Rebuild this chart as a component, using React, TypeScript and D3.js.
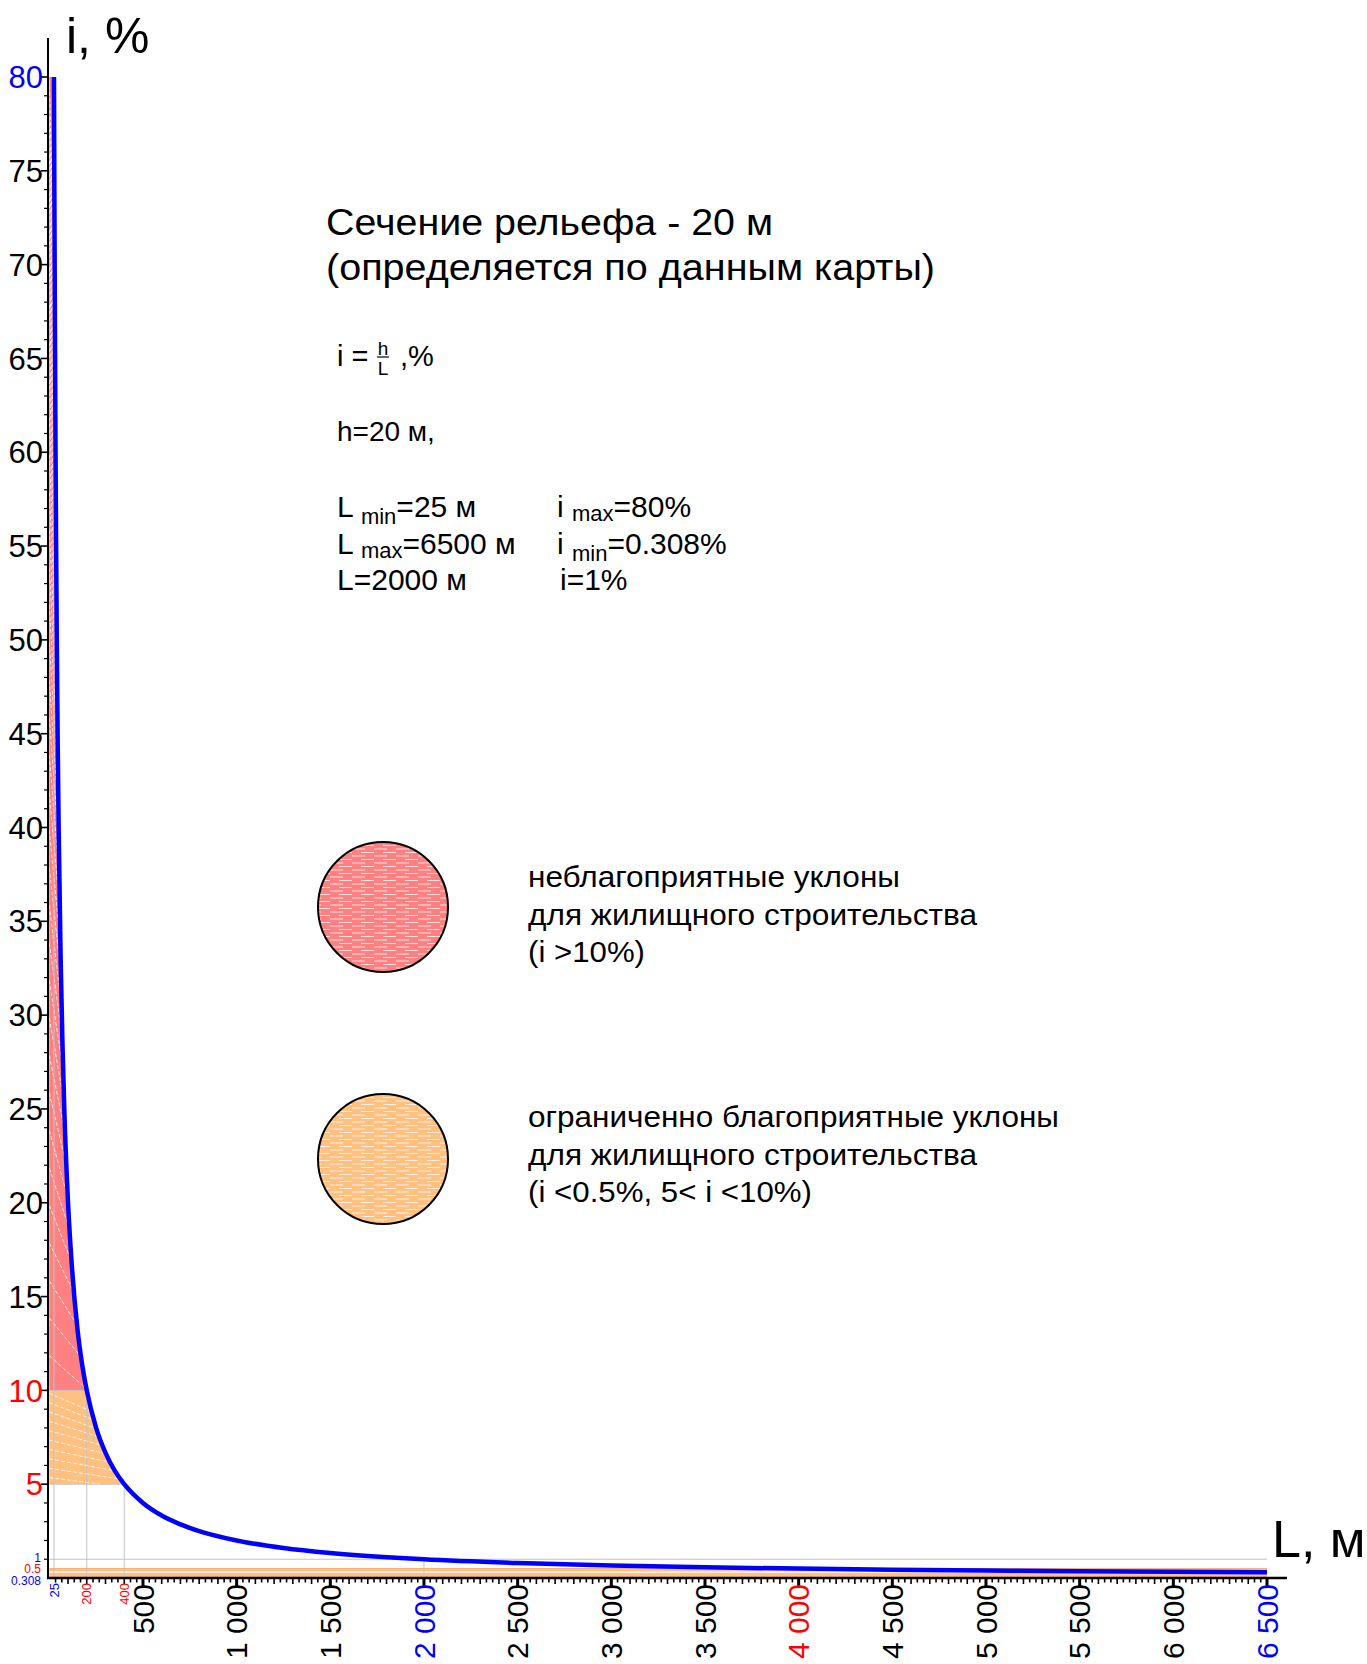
import React, { useEffect, useRef } from "react";
import * as d3 from "d3";

// slope i = h / L (h = 20 m)
const curveL = [25, 27, 30, 33, 36, 40, 45, 50, 60, 70, 80, 100, 120, 150, 175, 200, 250, 300, 350, 400, 500, 600, 700, 800, 1000, 1250, 1500, 2000, 2500, 3000, 3500, 4000, 4500, 5000, 5500, 6000, 6500];
const curveI = [80, 74.1, 66.7, 60.6, 55.6, 50, 44.4, 40, 33.3, 28.6, 25, 20, 16.7, 13.3, 11.4, 10, 8, 6.67, 5.71, 5, 4, 3.33, 2.86, 2.5, 2, 1.6, 1.33, 1, 0.8, 0.667, 0.571, 0.5, 0.444, 0.4, 0.364, 0.333, 0.308];

// zones
const redZone = [10, 80];
const orangeZone = [5, 10];
const lowZone = [0, 0.5];

// axis ticks
const yTicks = [5, 10, 15, 20, 25, 30, 35, 40, 45, 50, 55, 60, 65, 70, 75, 80];
const yBlueTicks = [80];
const yRedTicks = [5, 10];
const ySmallTicks = [1, 0.5, 0.308];
const ySmallBlue = [1, 0.308];

const xTicks = [500, 1000, 1500, 2000, 2500, 3000, 3500, 4000, 4500, 5000, 5500, 6000, 6500];
const xBlueTicks = [2000, 6500];
const xRedTicks = [4000];
const xSmallTicks = [25, 200, 400];
const xSmallBlue = [25];

// reference lines on the grid
const guideL = [25, 200, 400, 2000];
const guideI = [80, 10, 5, 1];

const titleLines = ["Сечение рельефа - 20 м", "(определяется по данным карты)"];
const legendRed = ["неблагоприятные уклоны", "для жилищного строительства", "(i >10%)"];
const legendOrange = ["ограниченно благоприятные уклоны", "для жилищного строительства", "(i <0.5%, 5< i <10%)"];

const BLUE = "#0000ff";
const RED = "#ff0000";
const RED_FILL = "#ff8080";
const ORANGE_FILL = "#ffc080";
const FONT = "'Liberation Sans', Arial, sans-serif";

const App: React.FC = () => {
  const svgRef = useRef<SVGSVGElement>(null);

  useEffect(() => {
    if (!svgRef.current) return;
    const svg = d3.select(svgRef.current);
    svg.selectAll("*").remove();

    const width = 1367;
    const height = 1664;
    svg.attr("width", width).attr("height", height).style("font-family", FONT);

    const x = d3.scaleLinear().domain([0, 6500]).range([49.3, 1267]);
    const y = d3.scaleLinear().domain([0, 80]).range([1578, 77]);
    const lOfI = d3.scaleLinear().domain(curveI).range(curveL);

    const pts: [number, number][] = curveL.map((l, k) => [l, curveI[k]]);
    const fmt = d3.formatLocale({ decimal: ".", thousands: " ", grouping: [3], currency: ["", ""] }).format(",");

    const defs = svg.append("defs");

    // hatch patterns for the legend circles
    [["hatchRed", RED_FILL], ["hatchOrange", ORANGE_FILL]].forEach(([id, col]) => {
      const p = defs
        .append("pattern")
        .attr("id", id)
        .attr("patternUnits", "userSpaceOnUse")
        .attr("width", 22)
        .attr("height", 7);
      p.append("rect").attr("width", 22).attr("height", 7).attr("fill", col);
      p.append("line").attr("x1", 0).attr("x2", 13).attr("y1", 2).attr("y2", 2)
        .attr("stroke", "#fff").attr("stroke-width", 0.9).attr("opacity", 0.85);
      p.append("line").attr("x1", 9).attr("x2", 22).attr("y1", 5.5).attr("y2", 5.5)
        .attr("stroke", "#fff").attr("stroke-width", 0.9).attr("opacity", 0.85);
    });

    // zone areas between the i axis and the curve
    const zoneArea = d3
      .area<[number, number]>()
      .x0(x(0))
      .x1((d) => x(d[0]))
      .y((d) => y(d[1]))
      .curve(d3.curveMonotoneY);

    const zones = [
      { id: "zoneRed", range: redZone, fill: RED_FILL, ratio: 0.85, step: 2 },
      { id: "zoneOrange", range: orangeZone, fill: ORANGE_FILL, ratio: 0.9, step: 0.5 },
    ];

    zones.forEach((z) => {
      const sub = pts.filter((d) => d[1] >= z.range[0] && d[1] <= z.range[1]);
      const pathD = zoneArea(sub) || "";
      defs.append("clipPath").attr("id", z.id + "Clip").append("path").attr("d", pathD);
      svg.append("path").attr("d", pathD).attr("fill", z.fill);

      // white dashed hatch
      const g = svg.append("g").attr("clip-path", `url(#${z.id}Clip)`);
      d3.range(z.range[1] - 0.15, z.range[0], -z.step).forEach((a) => {
        const b = a * z.ratio;
        g.append("line")
          .attr("x1", x(0))
          .attr("y1", y(a))
          .attr("x2", x(lOfI(b)))
          .attr("y2", y(b))
          .attr("stroke", "#fff")
          .attr("stroke-width", 1)
          .attr("stroke-dasharray", "4 2")
          .attr("opacity", 0.85);
      });
    });

    // low slope strip (i < 0.5)
    svg
      .append("rect")
      .attr("x", x(0))
      .attr("y", y(lowZone[1]))
      .attr("width", x(6500) - x(0))
      .attr("height", y(lowZone[0]) - y(lowZone[1]))
      .attr("fill", ORANGE_FILL);
    svg
      .append("line")
      .attr("x1", x(0))
      .attr("x2", x(6500))
      .attr("y1", y(0.308))
      .attr("y2", y(0.308))
      .attr("stroke", "#fff")
      .attr("stroke-width", 1.2);

    // gray guide lines
    const grid = svg.append("g").attr("stroke", "#c4c4c4").attr("stroke-width", 1);
    guideL.forEach((l, k) => {
      grid.append("line").attr("x1", x(l)).attr("x2", x(l)).attr("y1", y(0)).attr("y2", y(guideI[k]));
    });
    guideI.slice(1).forEach((v, k) => {
      const xEnd = v === 1 ? x(6500) : x(guideL[k + 1]);
      grid.append("line").attr("x1", x(0)).attr("x2", xEnd).attr("y1", y(v)).attr("y2", y(v));
    });
    grid.append("line").attr("x1", x(0)).attr("x2", x(6500)).attr("y1", y(0.5)).attr("y2", y(0.5))
      .attr("stroke", "#f0b070");

    // curve
    svg
      .append("path")
      .attr("d", d3.line<[number, number]>().x((d) => x(d[0])).y((d) => y(d[1])).curve(d3.curveMonotoneX)(pts) || "")
      .attr("fill", "none")
      .attr("stroke", BLUE)
      .attr("stroke-width", 4.5);

    // axes
    const axis = svg.append("g").attr("stroke", "#000");
    axis.append("line").attr("x1", 47).attr("x2", 1287).attr("y1", y(0)).attr("y2", y(0)).attr("stroke-width", 2.6);
    axis.append("line").attr("x1", 48).attr("x2", 48).attr("y1", 38).attr("y2", y(0) + 1).attr("stroke-width", 2);

    // y ticks, every unit
    d3.range(1, 81).forEach((v) => {
      const major = v % 5 === 0;
      axis
        .append("line")
        .attr("x1", 48)
        .attr("x2", major ? 41 : 44)
        .attr("y1", y(v))
        .attr("y2", y(v))
        .attr("stroke-width", major ? 1.6 : 1.2);
    });

    // x ticks
    d3.range(1, 196).forEach((k) => {
      const v = (k * 100) / 3;
      const major = k % 15 === 0;
      const mid = k % 3 === 0;
      axis
        .append("line")
        .attr("x1", x(v))
        .attr("x2", x(v))
        .attr("y1", y(0))
        .attr("y2", y(0) + (major ? 8 : mid ? 6 : 4.5))
        .attr("stroke-width", major ? 3 : 1.6);
    });

    const colorY = (v: number) => (yBlueTicks.includes(v) ? BLUE : yRedTicks.includes(v) ? RED : "#000");
    svg
      .append("g")
      .selectAll("text")
      .data(yTicks)
      .enter()
      .append("text")
      .attr("x", 43)
      .attr("y", (d) => y(d))
      .attr("dy", "0.36em")
      .attr("text-anchor", "end")
      .attr("font-size", 31)
      .attr("fill", colorY)
      .text((d) => d);

    // small labels near the origin, nudged apart like in the drawing
    const smallNudge = [-2, 0, 3];
    svg
      .append("g")
      .selectAll("text")
      .data(ySmallTicks)
      .enter()
      .append("text")
      .attr("x", 41)
      .attr("y", (d, k) => y(d) + smallNudge[k] + (k === 2 ? 5 : 0))
      .attr("dy", "0.36em")
      .attr("text-anchor", "end")
      .attr("font-size", 12)
      .attr("fill", (d) => (ySmallBlue.includes(d) ? BLUE : RED))
      .text((d) => d);

    const colorX = (v: number) => (xBlueTicks.includes(v) ? BLUE : xRedTicks.includes(v) ? RED : "#000");
    svg
      .append("g")
      .selectAll("text")
      .data(xTicks)
      .enter()
      .append("text")
      .attr("transform", (d) => `translate(${x(d)},${y(0) + 6}) rotate(-90)`)
      .attr("dy", "0.36em")
      .attr("text-anchor", "end")
      .attr("font-size", 30)
      .attr("fill", colorX)
      .text((d) => fmt(d));

    svg
      .append("g")
      .selectAll("text")
      .data(xSmallTicks)
      .enter()
      .append("text")
      .attr("transform", (d) => `translate(${x(d)},${y(0) + 5}) rotate(-90)`)
      .attr("dy", "0.36em")
      .attr("text-anchor", "end")
      .attr("font-size", 13)
      .attr("fill", (d) => (xSmallBlue.includes(d) ? BLUE : RED))
      .text((d) => d);

    // axis names
    svg.append("text").attr("x", 66).attr("y", 53).attr("font-size", 50).text("i, %");
    svg.append("text").attr("x", 1272).attr("y", 1557).attr("font-size", 52).text("L, м");

    // title (the drawing's font runs a little wider, so the lines are stretched to its widths)
    const titleWidths = [447, 609];
    titleLines.forEach((t, k) => {
      svg.append("text").attr("x", 326).attr("y", 235 + k * 45).attr("font-size", 36)
        .attr("textLength", titleWidths[k]).attr("lengthAdjust", "spacingAndGlyphs").text(t);
    });

    // formula i = h / L
    svg.append("text").attr("x", 337).attr("y", 366).attr("font-size", 29).text("i =");
    svg.append("text").attr("x", 383).attr("y", 354.5).attr("font-size", 19).attr("text-anchor", "middle").text("h");
    svg.append("line").attr("x1", 377).attr("x2", 389).attr("y1", 357).attr("y2", 357).attr("stroke", "#000").attr("stroke-width", 1.2);
    svg.append("text").attr("x", 383).attr("y", 374.5).attr("font-size", 19).attr("text-anchor", "middle").text("L");
    svg.append("text").attr("x", 400).attr("y", 366).attr("font-size", 29).text(",%");
    svg.append("text").attr("x", 337).attr("y", 441).attr("font-size", 28).text("h=20 м,");

    const rows: [string, string, string, number][] = [
      ["L ", "min", "=25 м", 7],
      ["L ", "max", "=6500 м", 4],
    ];
    const rowsR: [string, string, string, number][] = [
      ["i ", "max", "=80%", 4],
      ["i ", "min", "=0.308%", 7],
    ];
    const sub = (xPos: number, yPos: number, r: [string, string, string, number]) => {
      const t = svg.append("text").attr("x", xPos).attr("y", yPos).attr("font-size", 30);
      t.append("tspan").text(r[0]);
      t.append("tspan").attr("font-size", 22).attr("dy", r[3]).text(r[1]);
      t.append("tspan").attr("dy", -r[3]).text(r[2]);
    };
    rows.forEach((r, k) => sub(337, 517 + k * 36.5, r));
    rowsR.forEach((r, k) => sub(557, 517 + k * 36.5, r));
    svg.append("text").attr("x", 337).attr("y", 590).attr("font-size", 30).text("L=2000 м");
    svg.append("text").attr("x", 560).attr("y", 590).attr("font-size", 30).text("i=1%");

    // legend
    const legends = [
      { cy: 907, fill: "url(#hatchRed)", lines: legendRed, widths: [372, 449, 117], top: 887 },
      { cy: 1159, fill: "url(#hatchOrange)", lines: legendOrange, widths: [531, 449, 284], top: 1127 },
    ];
    legends.forEach((l) => {
      svg.append("circle").attr("cx", 383).attr("cy", l.cy).attr("r", 65)
        .attr("fill", l.fill).attr("stroke", "#000").attr("stroke-width", 2);
      l.lines.forEach((t, k) => {
        svg.append("text").attr("x", 528).attr("y", l.top + k * 37.5).attr("font-size", 29)
          .attr("textLength", l.widths[k]).attr("lengthAdjust", "spacingAndGlyphs").text(t);
      });
    });
  }, []);

  return (
    <div style={{ position: "absolute", left: 0, top: 0 }}>
      <svg ref={svgRef}></svg>
    </div>
  );
};

export default App;
